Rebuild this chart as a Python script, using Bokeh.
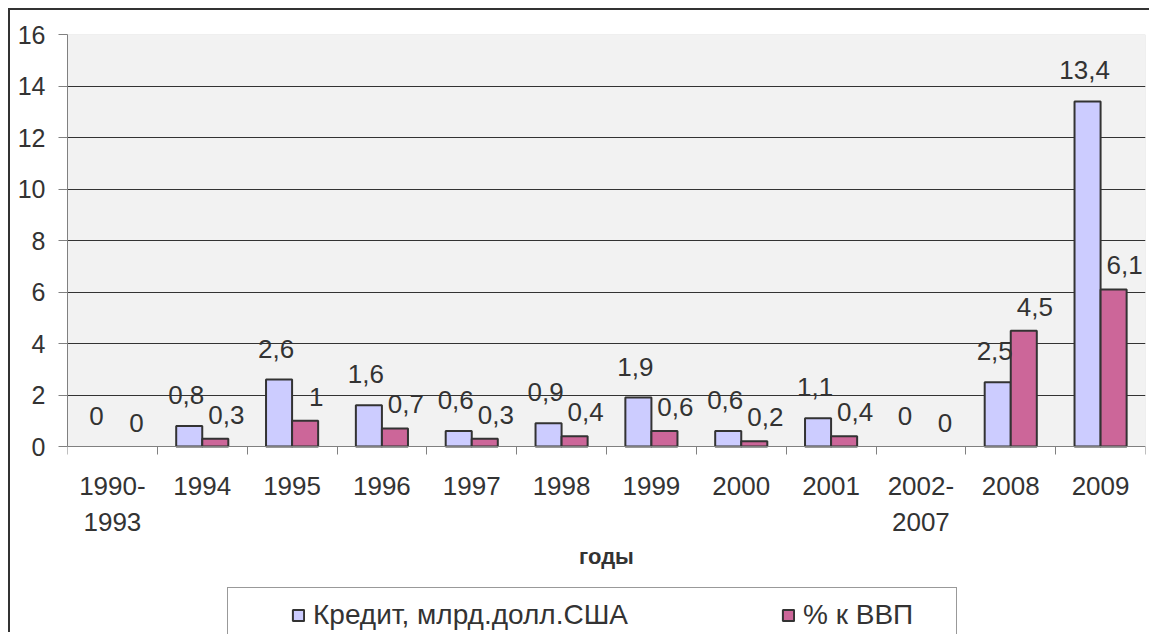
from bokeh.plotting import figure
from bokeh.models import (ColumnDataSource, FixedTicker, LabelSet, Legend, LegendItem,
                          Range1d, CDSView, BooleanFilter, BoxAnnotation)
from bokeh.transform import dodge
from bokeh.core.properties import value
from bokeh.embed import file_html
from bokeh.resources import INLINE

# ---- data ----
categories = ["1990-\n1993", "1994", "1995", "1996", "1997", "1998", "1999",
              "2000", "2001", "2002-\n2007", "2008", "2009"]
credit = [0, 0.8, 2.6, 1.6, 0.6, 0.9, 1.9, 0.6, 1.1, 0, 2.5, 13.4]
gdp_pct = [0, 0.3, 1, 0.7, 0.3, 0.4, 0.6, 0.2, 0.4, 0, 4.5, 6.1]
y_ticks = [0, 2, 4, 6, 8, 10, 12, 14, 16]
series_names = ["Кредит, млрд.долл.США", "% к ВВП"]
x_title = "годы"


def fmt(v):
    return f"{v:g}".replace(".", ",")


n = len(categories)
pos = [i + 0.5 for i in range(n)]
src = ColumnDataSource(dict(
    x=pos, credit=credit, gdp=gdp_pct,
    credit_lbl=[fmt(v) for v in credit],
    gdp_lbl=[fmt(v) for v in gdp_pct],
))

FONT = "Liberation Sans"
TXT = "#333333"
FS = "26px"

# layout (pixels)
W, H = 1141, 624
TOP, LEFT, RIGHT = 24, 57, 6
PLOT_H = 412                      # pixel height of the 0..16 value area
frame_h = H - TOP
y_start = y_ticks[-1] - frame_h * y_ticks[-1] / PLOT_H   # room below 0 for labels/legend

p = figure(width=W, height=H,
           x_range=Range1d(0, n), y_range=Range1d(y_start, y_ticks[-1]),
           output_backend="svg", toolbar_location=None,
           min_border_left=LEFT, min_border_top=TOP, min_border_right=RIGHT,
           min_border_bottom=0,
           background_fill_color="white", border_fill_color="white",
           outline_line_color=None)
p.styles = {"border-left": "2px solid #333333", "border-top": "2px solid #333333",
            "margin-left": "8px", "margin-top": "8px"}

# grey plot area for the value range 0..16
area = BoxAnnotation(left=0, right=n, bottom=y_ticks[0], top=y_ticks[-1],
                     fill_color="#F2F2F2", fill_alpha=1,
                     line_color="#A6A6A6", line_width=1, level="image")
p.add_layout(area)

view1 = CDSView(filter=BooleanFilter([v > 0 for v in credit]))
view2 = CDSView(filter=BooleanFilter([v > 0 for v in gdp_pct]))

r1 = p.vbar(x=dodge("x", -0.145), top="credit", width=0.29, source=src, view=view1,
            fill_color="#CCCCFF", line_color="#333333", line_width=2)
r2 = p.vbar(x=dodge("x", 0.145), top="gdp", width=0.29, source=src, view=view2,
            fill_color="#CC6699", line_color="#333333", line_width=2)

lab1 = LabelSet(x=dodge("x", -0.145), y="credit", text="credit_lbl", source=src,
                x_offset=-3, y_offset=22, text_align="center", text_baseline="alphabetic",
                text_font=value(FONT), text_font_size=FS, text_color=TXT)
lab2 = LabelSet(x=dodge("x", 0.145), y="gdp", text="gdp_lbl", source=src,
                x_offset=11, y_offset=15, text_align="center", text_baseline="alphabetic",
                text_font=value(FONT), text_font_size=FS, text_color=TXT)
p.add_layout(lab1)
p.add_layout(lab2)

# grid
p.xgrid.visible = False
p.ygrid.ticker = FixedTicker(ticks=y_ticks[1:-1])
p.ygrid.grid_line_color = "#333333"
p.ygrid.grid_line_width = 1

# x axis (drawn at value 0)
xa = p.xaxis[0]
xa.fixed_location = 0
xa.ticker = FixedTicker(ticks=pos, minor_ticks=list(range(n + 1)))
xa.major_label_overrides = {pos[i]: categories[i] for i in range(n)}
xa.major_tick_line_color = None
xa.major_tick_out = 8
xa.major_tick_in = 0
xa.minor_tick_out = 8
xa.minor_tick_in = 0
xa.minor_tick_line_color = "#808080"
xa.axis_line_color = "#808080"
xa.major_label_standoff = 16
xa.major_label_text_font = FONT
xa.major_label_text_font_size = FS
xa.major_label_text_color = TXT
xa.axis_label = x_title
xa.axis_label_text_font = FONT
xa.axis_label_text_font_size = "22px"
xa.axis_label_text_font_style = "bold"
xa.axis_label_text_color = TXT
xa.axis_label_standoff = 4

# y axis
ya = p.yaxis[0]
ya.ticker = FixedTicker(ticks=y_ticks)
ya.bounds = (y_ticks[0], y_ticks[-1])
ya.major_tick_out = 9
ya.major_tick_in = 0
ya.minor_tick_line_color = None
ya.major_tick_line_color = "#808080"
ya.axis_line_color = "#808080"
ya.major_label_standoff = 13
ya.major_label_text_font = FONT
ya.major_label_text_font_size = "25px"
ya.major_label_text_color = TXT

legend = Legend(items=[LegendItem(label=series_names[0], renderers=[r1]),
                       LegendItem(label=series_names[1], renderers=[r2])],
                orientation="horizontal", location=(160, -9),
                title=" ", title_location="left", title_text_font_size="1px",
                title_standoff=51,
                border_line_color="#333333", border_line_width=1,
                background_fill_color="white", background_fill_alpha=1,
                label_text_font=FONT, label_text_font_size="28px", label_text_color=TXT,
                label_width=142,
                glyph_width=14, glyph_height=14, spacing=153, padding=11, margin=0,
                label_standoff=8)
p.add_layout(legend)

open("out.html", "w").write(file_html(p, INLINE))
